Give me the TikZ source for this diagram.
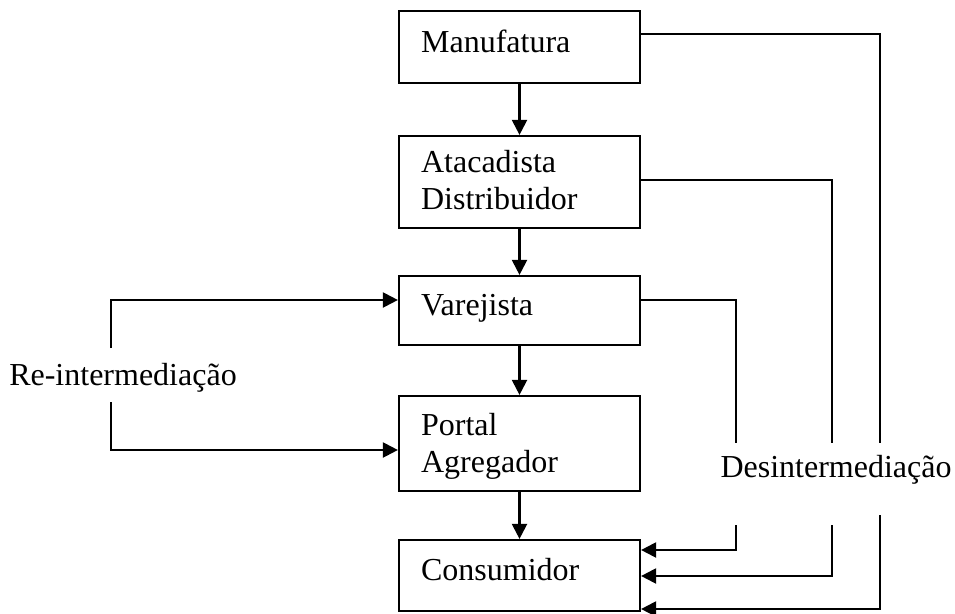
\documentclass[tikz,border=0pt]{standalone}
\usepackage{fontspec}
\setmainfont{Liberation Serif}
\usetikzlibrary{arrows.meta,calc}
\begin{document}
\begin{tikzpicture}[x=1pt,y=-1pt,
  line width=2.2pt,
  box/.style={draw,rectangle,inner sep=0,minimum width=241pt},
  lbl/.style={inner sep=0,anchor=base west,align=left,font=\fontsize{32}{37}\selectfont},
  side/.style={inner sep=0,font=\fontsize{32}{37}\selectfont},
  arr/.style={-{Triangle[length=15pt,width=15pt]}}]
\useasboundingbox (0,0) rectangle (955,613);

% chain of boxes
\node[box,minimum height=72pt] (man) at (519.5,47) {};
\node[box,minimum height=92pt] (ata) at (519.5,182) {};
\node[box,minimum height=69pt] (var) at (519.5,310.5) {};
\node[box,minimum height=95pt] (por) at (519.5,443.5) {};
\node[box,minimum height=71pt] (con) at (519.5,575.5) {};

% box captions (base anchor sits on the last line)
\node[lbl] (mant) at (420,52) {Manufatura};
\node[lbl] (atat) at (420,209) {Atacadista\\Distribuidor};
\node[lbl] (vart) at (420,315) {Varejista};
\node[lbl] (port) at (420,472) {Portal\\Agregador};
\node[lbl] (cont) at (420,580) {Consumidor};

% downward flow
\draw[arr] (man) -- (ata);
\draw[arr] (ata) -- (var);
\draw[arr] (var) -- (por);
\draw[arr] (por) -- (con);

% disintermediation paths
\node[side] (desin) at (836,470) {Desintermediação};
\coordinate (m1) at (880,443);
\coordinate (m2) at (880,515);
\coordinate (a1) at (832,443);
\coordinate (a2) at (832,525);
\coordinate (v1) at (736,443);
\coordinate (v2) at (736,525);
\draw (man.east |- 0,34) -| (m1);
\draw (ata.east |- 0,180) -| (a1);
\draw (var.east |- 0,300) -| (v1);
\draw[arr] (m2) |- (con.east |- 0,609);
\draw[arr] (a2) |- (con.east |- 0,576);
\draw[arr] (v2) |- (con.east |- 0,550);

% re-intermediation paths
\node[side] (reint) at (123,378) {Re-intermediação};
\coordinate (r1) at (111,348);
\coordinate (r2) at (111,402);
\draw[arr] (r1) |- (var.west |- 0,300);
\draw[arr] (r2) |- (por.west |- 0,450);
\end{tikzpicture}
\end{document}
